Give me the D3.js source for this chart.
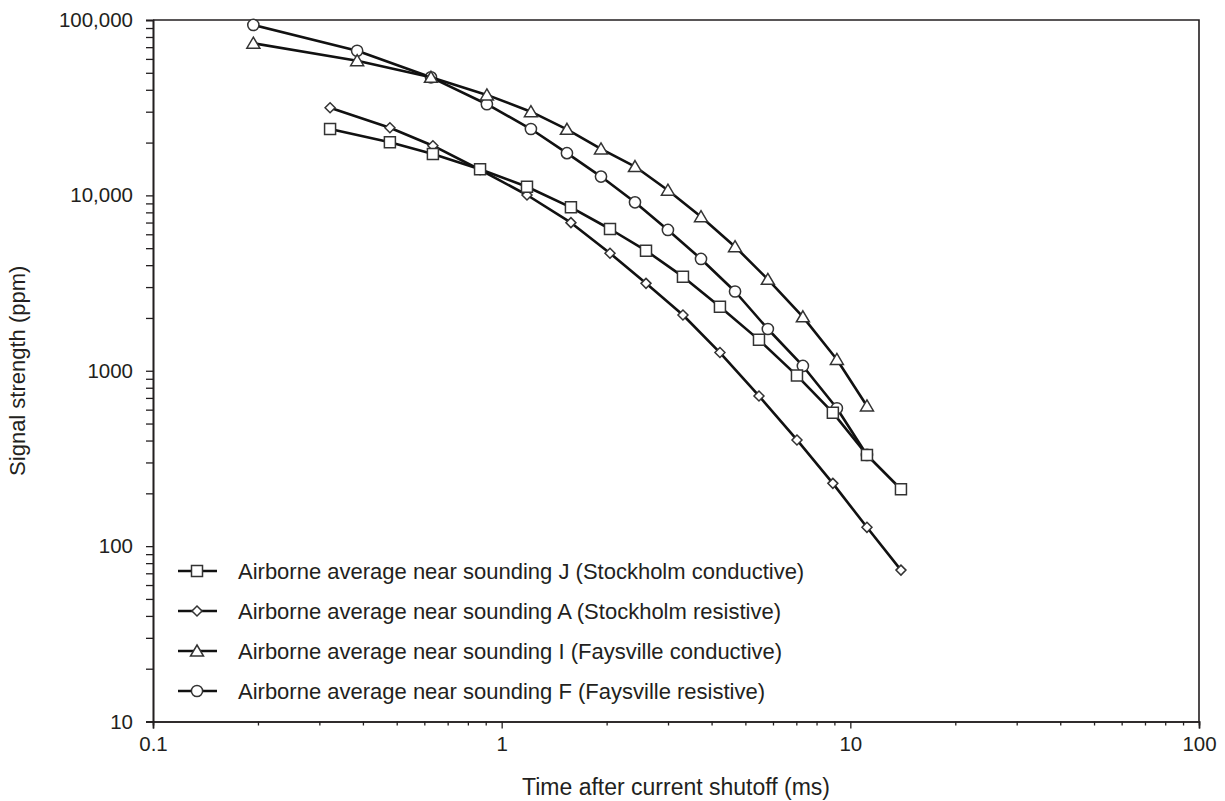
<!DOCTYPE html>
<html>
<head>
<meta charset="utf-8">
<script src="https://cdn.jsdelivr.net/npm/d3@7"></script>
<style>
  html, body { margin: 0; padding: 0; background: #fff; }
  svg { display: block; }
  text { font-family: "Liberation Sans", Arial, Helvetica, sans-serif; fill: #231f20; }
</style>
</head>
<body>
<svg id="chart" width="1225" height="801"></svg>
<script>
// ---- Data ----
const timeStockholm = [0.322, 0.478, 0.635, 0.867, 1.182, 1.58, 2.045, 2.594, 3.311, 4.227, 5.47, 7.03, 8.91, 11.16, 13.97];
const timeFaysville = [0.194, 0.385, 0.627, 0.907, 1.213, 1.539, 1.927, 2.412, 2.998, 3.73, 4.67, 5.8, 7.31, 9.15, 11.16];

const signalJ = [23900, 20100, 17200, 14100, 11200, 8550, 6430, 4840, 3440, 2320, 1500, 938, 577, 331, 211];
const signalA = [31600, 24300, 19200, 14000, 10050, 6990, 4680, 3150, 2080, 1270, 718, 403, 228, 128, 73];
const signalI = [73700, 58600, 47100, 37400, 30000, 23800, 18400, 14600, 10700, 7560, 5100, 3320, 2030, 1160, 630];
const signalF = [93700, 66800, 47100, 33100, 23900, 17400, 12800, 9130, 6350, 4340, 2830, 1730, 1065, 611, 331];

const seriesNames = [
  "Airborne average near sounding J (Stockholm conductive)",
  "Airborne average near sounding A (Stockholm resistive)",
  "Airborne average near sounding I (Faysville conductive)",
  "Airborne average near sounding F (Faysville resistive)"
];
const seriesSymbols = ["square", "diamond", "triangle", "circle"];

const xTickValues = [0.1, 1, 10, 100];
const xTickLabels = ["0.1", "1", "10", "100"];
const yTickValues = [10, 100, 1000, 10000, 100000];
const yTickLabels = ["10", "100", "1000", "10,000", "100,000"];

const xTitle = "Time after current shutoff (ms)";
const yTitle = "Signal strength (ppm)";

// ---- Layout ----
const plotLeft = 153, plotRight = 1199, plotTop = 20, plotBottom = 721.5;
const ink = "#231f20";

const svg = d3.select("#chart");
const x = d3.scaleLog().domain([0.1, 100]).range([plotLeft, plotRight]);
const y = d3.scaleLog().domain([10, 100000]).range([plotBottom, plotTop]);

function minorTicks(lo, hi) {
  const out = [];
  for (let d = lo; d < hi; d *= 10) {
    for (let k = 2; k <= 9; k++) out.push(d * k);
  }
  return out;
}

// ---- Axes ----
const xMajor = d3.axisBottom(x).tickValues(xTickValues)
  .tickFormat((d, i) => xTickLabels[i]).tickSize(7).tickPadding(8);
const xMinor = d3.axisBottom(x).tickValues(minorTicks(0.1, 100)).tickFormat("").tickSize(4);
const yMajor = d3.axisLeft(y).tickValues(yTickValues)
  .tickFormat((d, i) => yTickLabels[i]).tickSize(7).tickPadding(13);
const yMinor = d3.axisLeft(y).tickValues(minorTicks(10, 100000)).tickFormat("").tickSize(7);

function styleAxis(g) {
  g.selectAll("path.domain").attr("stroke", ink).attr("stroke-width", 1.6);
  g.selectAll(".tick line").attr("stroke", ink).attr("stroke-width", 1.3);
  g.selectAll(".tick text").attr("fill", ink).style("font-size", "20.5px")
    .style("font-family", '"Liberation Sans", Arial, sans-serif');
}

svg.append("g").attr("transform", `translate(0,${plotBottom})`).call(xMinor).call(styleAxis);
svg.append("g").attr("transform", `translate(0,${plotBottom})`).call(xMajor).call(styleAxis);
svg.append("g").attr("transform", `translate(${plotLeft},0)`).call(yMinor).call(styleAxis);
svg.append("g").attr("transform", `translate(${plotLeft},0)`).call(yMajor).call(styleAxis);

svg.append("path")
  .attr("d", `M${plotLeft},${plotTop}H${plotRight}V${plotBottom}`)
  .attr("fill", "none").attr("stroke", ink).attr("stroke-width", 1.6);

svg.append("text").attr("x", (plotLeft + plotRight) / 2).attr("y", 795)
  .attr("text-anchor", "middle").style("font-size", "23px").text(xTitle);
svg.append("text")
  .attr("transform", `translate(25,${(plotTop + plotBottom) / 2}) rotate(-90)`)
  .attr("text-anchor", "middle").style("font-size", "22px").text(yTitle);

// ---- Symbols ----
function symbolPath(kind) {
  switch (kind) {
    case "square": return "M-5.5,-5.5H5.5V5.5H-5.5Z";
    case "diamond": return "M0,-5L5,0L0,5L-5,0Z";
    case "triangle": return "M0,-6L6.5,5H-6.5Z";
    case "circle": return d3.symbol(d3.symbolCircle, Math.PI * 5.6 * 5.6)();
  }
}

const series = [
  { name: seriesNames[3], sym: seriesSymbols[3], t: timeFaysville, v: signalF },
  { name: seriesNames[2], sym: seriesSymbols[2], t: timeFaysville, v: signalI },
  { name: seriesNames[1], sym: seriesSymbols[1], t: timeStockholm, v: signalA },
  { name: seriesNames[0], sym: seriesSymbols[0], t: timeStockholm, v: signalJ }
];

const line = d3.line().x(d => x(d[0])).y(d => y(d[1]));

series.forEach(s => {
  const pts = s.t.map((t, i) => [t, s.v[i]]);
  const g = svg.append("g");
  g.append("path").datum(pts).attr("d", line)
    .attr("fill", "none").attr("stroke", "#111").attr("stroke-width", 2.6)
    .attr("stroke-linejoin", "round");
  g.selectAll("path.sym").data(pts).join("path").attr("class", "sym")
    .attr("transform", d => `translate(${x(d[0])},${y(d[1])})`)
    .attr("d", symbolPath(s.sym))
    .attr("fill", "#fff").attr("stroke", "#333").attr("stroke-width", 1.5);
});

// ---- Legend ----
const legendY = [571, 611, 651, 691];
seriesNames.forEach((name, i) => {
  const g = svg.append("g").attr("transform", `translate(0,${legendY[i]})`);
  g.append("line").attr("x1", 178).attr("x2", 217).attr("y1", 0).attr("y2", 0)
    .attr("stroke", "#111").attr("stroke-width", 2.6);
  g.append("path").attr("transform", "translate(197,0)")
    .attr("d", symbolPath(seriesSymbols[i]))
    .attr("fill", "#fff").attr("stroke", "#333").attr("stroke-width", 1.5);
  g.append("text").attr("x", 238).attr("y", 0).attr("dy", "0.35em")
    .style("font-size", "22px").text(name);
});
</script>
</body>
</html>
